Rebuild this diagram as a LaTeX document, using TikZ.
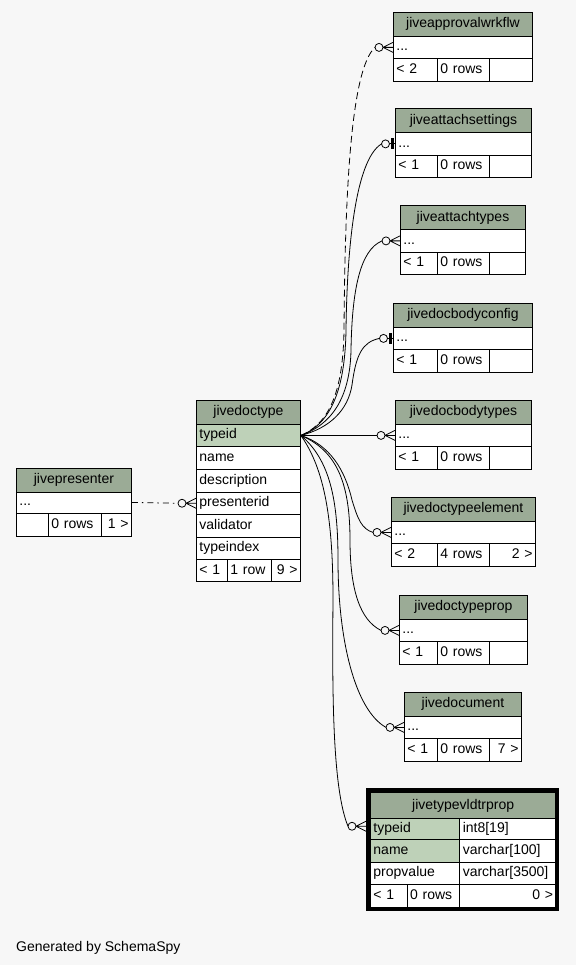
\documentclass[tikz,border=0pt]{standalone}
\usepackage{fontspec}
\setmainfont{Liberation Sans}
\definecolor{bg}{HTML}{F7F7F7}
\definecolor{hdr}{HTML}{9BAB96}
\definecolor{keyc}{HTML}{BED1B8}
\tikzset{
  cell/.style={draw=black, line width=0.9pt, rectangle, anchor=north west,
    inner xsep=3pt, inner ysep=0pt, font=\fontsize{14}{16}\selectfont,
    text height=10pt, text depth=3pt, fill=white},
  edge/.style={draw=black, line width=0.8pt},
  impl/.style={edge, dash pattern=on 7pt off 4pt},
  dashdot/.style={edge, dash pattern=on 6pt off 4pt on 1.5pt off 4pt},
}
\newcommand\tcell[6][]{\pgfmathsetmacro\tw{#4-6}%
  \node[cell, minimum height=#5pt, text width=\tw pt, align=left, #1] (#2) at (#3) {#6};}
% name, title, x, y, w, f1, f2, f3
\newcommand\gtable[8]{%
  \tcell[fill=hdr,align=center]{#1-h}{#3,#4}{#5}{23.7}{#2}
  \tcell{#1-r}{#3,#4+23.7}{#5}{22.5}{...}
  \tcell{#1-f1}{#3,#4+46.2}{437-#3}{22.5}{#6}
  \tcell{#1-f2}{437,#4+46.2}{52}{22.5}{#7}
  \tcell[align=right]{#1-f3}{489,#4+46.2}{#3+#5-489}{22.5}{#8}}
\newcommand\crowend[1]{%
  \draw[edge] ([xshift=-10pt]#1) -- ([yshift=5pt]#1)
              ([xshift=-10pt]#1) -- (#1)
              ([xshift=-10pt]#1) -- ([yshift=-5pt]#1);
  \draw[edge, fill=bg] ([xshift=-14pt]#1) circle (4pt);}
\newcommand\teeend[1]{%
  \draw[edge] ([xshift=-5.5pt]#1) -- (#1);
  \fill ([xshift=-4pt,yshift=-5.5pt]#1) rectangle ([xshift=-1pt,yshift=5.5pt]#1);
  \draw[edge, fill=bg] ([xshift=-9.5pt]#1) circle (4pt);}
\begin{document}
\begin{tikzpicture}[x=1pt,y=-1pt]
\fill[bg] (0,0) rectangle (576,965);
\useasboundingbox (0,0) rectangle (576,965);

% child tables
\gtable{appr}{jiveapprovalwrkflw}{393}{12}{139}{< 2}{0 rows}{}
\gtable{atts}{jiveattachsettings}{395}{108.5}{136}{< 1}{0 rows}{}
\gtable{attt}{jiveattachtypes}{400}{205.5}{125}{< 1}{0 rows}{}
\gtable{dbc}{jivedocbodyconfig}{393}{303}{139}{< 1}{0 rows}{}
\gtable{dbt}{jivedocbodytypes}{395}{400}{136}{< 1}{0 rows}{}
\gtable{dte}{jivedoctypeelement}{391}{497}{144}{< 2}{4 rows}{2 >}
\gtable{dtp}{jivedoctypeprop}{399}{595}{128}{< 1}{0 rows}{}
\gtable{doc}{jivedocument}{404}{692}{117}{< 1}{0 rows}{7 >}

% jivedoctype
\tcell[fill=hdr,align=center]{dt-h}{196,400}{104}{23.7}{jivedoctype}
\tcell[fill=keyc]{dt-typeid}{196,423.7}{104}{22.6}{typeid}
\tcell{dt-name}{196,446.3}{104}{22.6}{name}
\tcell{dt-desc}{196,468.9}{104}{22.6}{description}
\tcell{dt-pres}{196,491.5}{104}{22.6}{presenterid}
\tcell{dt-val}{196,514.1}{104}{22.6}{validator}
\tcell{dt-tix}{196,536.7}{104}{22.6}{typeindex}
\tcell{dt-f1}{196,559.3}{31}{21.7}{< 1}
\tcell{dt-f2}{227,559.3}{44}{21.7}{1 row}
\tcell[align=right]{dt-f3}{271,559.3}{29}{21.7}{9 >}

% jivepresenter
\tcell[fill=hdr,align=center]{pr-h}{16,467.5}{115}{24}{jivepresenter}
\tcell{pr-r}{16,491.5}{115}{21}{...}
\tcell{pr-f1}{16,512.5}{32}{23.5}{}
\tcell{pr-f2}{48,512.5}{52.5}{23.5}{0 rows}
\tcell[align=right]{pr-f3}{100.5,512.5}{30.5}{23.5}{1 >}

% jivetypevldtrprop
\tcell[fill=hdr,align=center]{vtp-h}{370,792}{185.5}{26.3}{jivetypevldtrprop}
\tcell[fill=keyc]{vtp-typeid}{370,818.3}{89.3}{21}{typeid}
\tcell{vtp-t1}{459.3,818.3}{96.2}{21}{int8[19]}
\tcell[fill=keyc]{vtp-name}{370,839.3}{89.3}{22.4}{name}
\tcell{vtp-t2}{459.3,839.3}{96.2}{22.4}{varchar[100]}
\tcell{vtp-pv}{370,861.7}{89.3}{22.6}{propvalue}
\tcell{vtp-t3}{459.3,861.7}{96.2}{22.6}{varchar[3500]}
\tcell{vtp-f1}{370,884.3}{36.7}{22.4}{< 1}
\tcell{vtp-f2}{406.7,884.3}{52.6}{22.4}{0 rows}
\tcell[align=right]{vtp-f3}{459.3,884.3}{96.2}{22.4}{0 >}
\draw[line width=4pt] (368,790) rectangle (557.3,909);
\coordinate (vtpin) at ([xshift=-4pt,yshift=3pt]vtp-typeid.west);

% connectors
\draw[impl] (dt-typeid.east) .. controls (325,425) and (343,400) .. (344,330)
   .. controls (345,200) and (350,70) .. ([xshift=-18pt]appr-r.west);
\crowend{appr-r.west}
\draw[edge] (dt-typeid.east) .. controls (328,425) and (345,395) .. (346,330)
   .. controls (347,250) and (355,160) .. ([xshift=-13.5pt]atts-r.west);
\teeend{atts-r.west}
\draw[edge] (dt-typeid.east) .. controls (330,425) and (350,400) .. (351,350)
   .. controls (352,290) and (360,250) .. ([xshift=-18pt]attt-r.west);
\crowend{attt-r.west}
\draw[edge] (dt-typeid.east) .. controls (330,428) and (348,410) .. (352,385)
   .. controls (356,355) and (362,342) .. ([xshift=-13.5pt]dbc-r.west);
\teeend{dbc-r.west}
\draw[edge] (dt-typeid.east) -- ([xshift=-18pt]dbt-r.west);
\crowend{dbt-r.west}
\draw[edge] (dt-typeid.east) .. controls (330,445) and (345,470) .. (352,500)
   .. controls (358,520) and (362,529) .. ([xshift=-18pt]dte-r.west);
\crowend{dte-r.west}
\draw[edge] (dt-typeid.east) .. controls (335,450) and (350,480) .. (350,540)
   .. controls (350,590) and (360,620) .. ([xshift=-18pt]dtp-r.west);
\crowend{dtp-r.west}
\draw[edge] (dt-typeid.east) .. controls (330,460) and (338,500) .. (338,560)
   .. controls (338,640) and (355,710) .. ([xshift=-18pt]doc-r.west);
\crowend{doc-r.west}
\draw[edge] (dt-typeid.east) .. controls (325,470) and (333,520) .. (333,600)
   .. controls (332,700) and (333,790) .. ([xshift=-18pt]vtpin);
\crowend{vtpin}
\draw[dashdot] (pr-r.east) -- ([xshift=-18pt]dt-pres.west);
\crowend{dt-pres.west}

\node[anchor=base west, inner sep=0pt, font=\fontsize{14}{16}\selectfont] (gen) at (16,951.7) {Generated by SchemaSpy};
\end{tikzpicture}
\end{document}
